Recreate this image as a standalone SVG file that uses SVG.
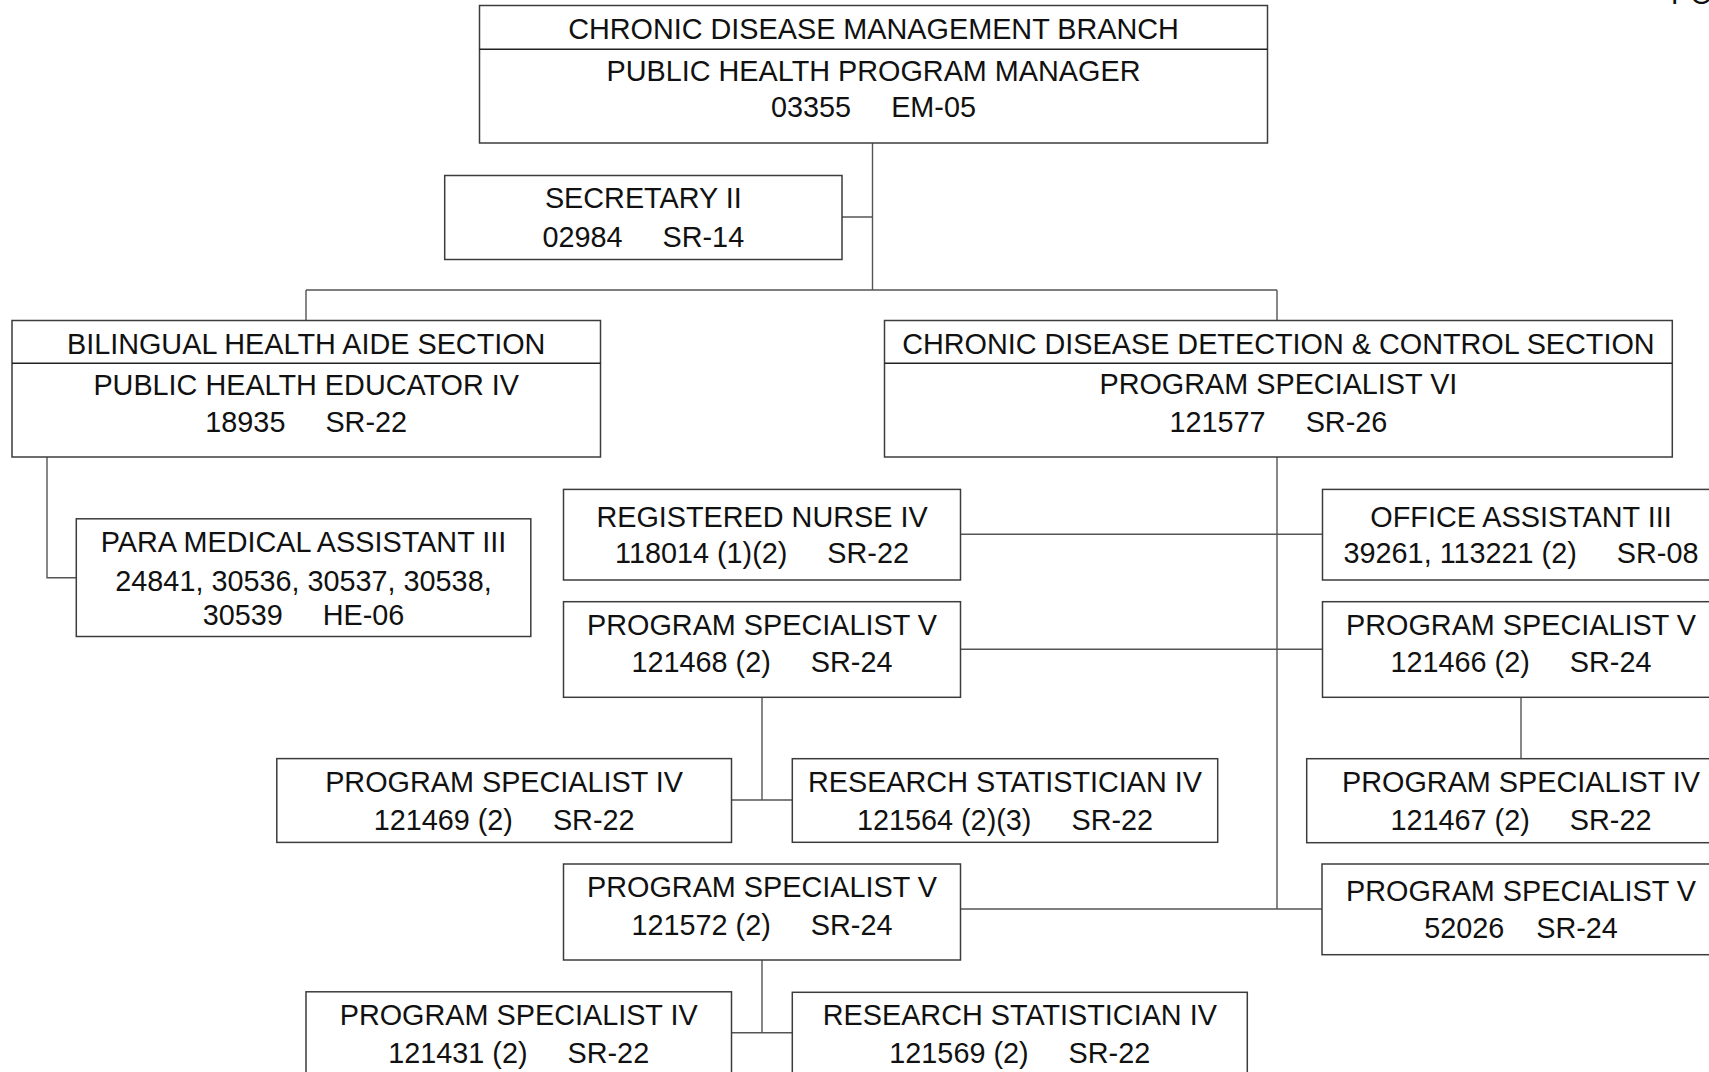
<svg xmlns="http://www.w3.org/2000/svg" width="1709" height="1072" viewBox="0 0 1709 1072">
<style>
.b{fill:#fff;stroke:#3c3c3c;stroke-width:1.5}
.d{stroke:#222;stroke-width:1.5}
.c{fill:none;stroke:#555;stroke-width:1.4}
text{font-family:"Liberation Sans",Arial,sans-serif;font-size:28.8px;fill:#111;text-anchor:middle}
</style>
<rect width="1709" height="1072" fill="#fff"/>
<g id="connectors">
<path class="c" d="M872.5 143V290M842 217H872.5M306 290H1277M306 290V320.5M1277 290V320.5M47 457V577.7H76.3M1277 457V909M960.5 534.3H1322.5M960.5 649.3H1322.5M762 697V800M731.5 800H792.3M1521 697V758.7M960.5 909H1322M762 960V1032.7M731.5 1032.7H792.3"/>
</g>
<g id="n-top">
<rect class="b" x="479.5" y="5.5" width="788" height="137.5"/>
<line class="d" x1="479.5" y1="49.3" x2="1267.5" y2="49.3"/>
<text x="873.5" y="39">CHRONIC DISEASE MANAGEMENT BRANCH</text>
<text x="873.5" y="81">PUBLIC HEALTH PROGRAM MANAGER</text>
<text x="873.5" y="117" xml:space="preserve">03355     EM-05</text>
</g>
<g id="n-secretary">
<rect class="b" x="444.7" y="175.5" width="397.3" height="84"/>
<text x="643.3" y="208.4">SECRETARY II</text>
<text x="643.3" y="246.5" xml:space="preserve">02984     SR-14</text>
</g>
<g id="n-bilingual">
<rect class="b" x="12" y="320.5" width="588.5" height="136.5"/>
<line class="d" x1="12" y1="363.3" x2="600.5" y2="363.3"/>
<text x="306.2" y="354">BILINGUAL HEALTH AIDE SECTION</text>
<text x="306.2" y="394.5">PUBLIC HEALTH EDUCATOR IV</text>
<text x="306.2" y="432" xml:space="preserve">18935     SR-22</text>
</g>
<g id="n-cddc">
<rect class="b" x="884.5" y="320.5" width="787.8" height="136.5"/>
<line class="d" x1="884.5" y1="363.3" x2="1672.3" y2="363.3"/>
<text x="1278.4" y="353.5">CHRONIC DISEASE DETECTION &amp; CONTROL SECTION</text>
<text x="1278.4" y="394">PROGRAM SPECIALIST VI</text>
<text x="1278.4" y="431.7" xml:space="preserve">121577     SR-26</text>
</g>
<g id="n-para">
<rect class="b" x="76.3" y="518.8" width="454.5" height="117.7"/>
<text x="303.5" y="551.7">PARA MEDICAL ASSISTANT III</text>
<text x="303.5" y="591">24841, 30536, 30537, 30538,</text>
<text x="303.5" y="624.8" xml:space="preserve">30539     HE-06</text>
</g>
<g id="n-rn">
<rect class="b" x="563.5" y="489.4" width="397" height="90.6"/>
<text x="762" y="526.7">REGISTERED NURSE IV</text>
<text x="762" y="563" xml:space="preserve">118014 (1)(2)     SR-22</text>
</g>
<g id="n-oa">
<rect class="b" x="1322.5" y="489.4" width="397" height="90.6"/>
<text x="1521" y="526.7">OFFICE ASSISTANT III</text>
<text x="1521" y="563" xml:space="preserve">39261, 113221 (2)     SR-08</text>
</g>
<g id="n-ps121468">
<rect class="b" x="563.5" y="601.7" width="397" height="95.6"/>
<text x="762" y="635">PROGRAM SPECIALIST V</text>
<text x="762" y="671.7" xml:space="preserve">121468 (2)     SR-24</text>
</g>
<g id="n-ps121466">
<rect class="b" x="1322.5" y="601.7" width="397" height="95.6"/>
<text x="1521" y="635">PROGRAM SPECIALIST V</text>
<text x="1521" y="671.7" xml:space="preserve">121466 (2)     SR-24</text>
</g>
<g id="n-ps121469">
<rect class="b" x="276.8" y="758.6" width="454.7" height="83.8"/>
<text x="504.1" y="791.7">PROGRAM SPECIALIST IV</text>
<text x="504.1" y="830" xml:space="preserve">121469 (2)     SR-22</text>
</g>
<g id="n-rs121564">
<rect class="b" x="792.3" y="758.7" width="425.4" height="83.6"/>
<text x="1005" y="791.7">RESEARCH STATISTICIAN IV</text>
<text x="1005" y="830" xml:space="preserve">121564 (2)(3)     SR-22</text>
</g>
<g id="n-ps121467">
<rect class="b" x="1306.7" y="758.7" width="428" height="84"/>
<text x="1521" y="791.7">PROGRAM SPECIALIST IV</text>
<text x="1521" y="830" xml:space="preserve">121467 (2)     SR-22</text>
</g>
<g id="n-ps121572">
<rect class="b" x="563.5" y="864" width="397" height="96"/>
<text x="762" y="896.7">PROGRAM SPECIALIST V</text>
<text x="762" y="935" xml:space="preserve">121572 (2)     SR-24</text>
</g>
<g id="n-ps52026">
<rect class="b" x="1322" y="864" width="398" height="90.7"/>
<text x="1521" y="900.7">PROGRAM SPECIALIST V</text>
<text x="1521" y="938.3" xml:space="preserve">52026    SR-24</text>
</g>
<g id="n-ps121431">
<rect class="b" x="306" y="991.8" width="425.5" height="100"/>
<text x="518.7" y="1025">PROGRAM SPECIALIST IV</text>
<text x="518.7" y="1063.3" xml:space="preserve">121431 (2)     SR-22</text>
</g>
<g id="n-rs121569">
<rect class="b" x="792.3" y="992.3" width="455" height="100"/>
<text x="1019.8" y="1025">RESEARCH STATISTICIAN IV</text>
<text x="1019.8" y="1063.3" xml:space="preserve">121569 (2)     SR-22</text>
</g>
<g id="page-label">
<text x="1671" y="4" style="text-anchor:start">PO</text>
</g>
</svg>
